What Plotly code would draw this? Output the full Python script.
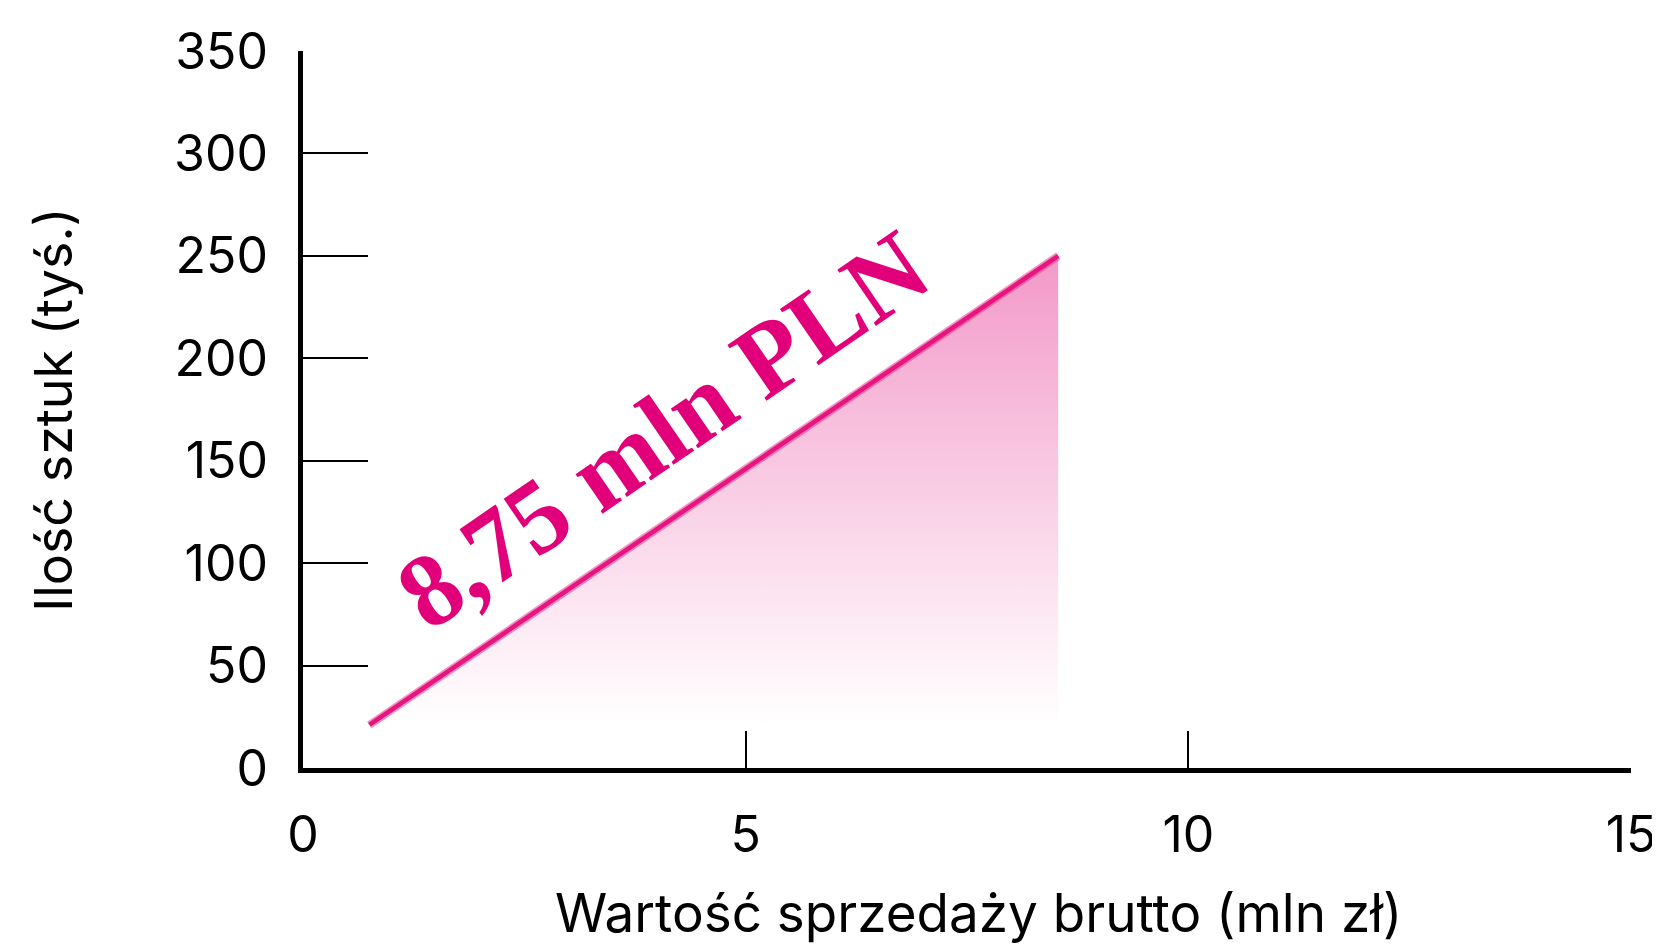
import plotly.graph_objects as go

# Data
line_x = [0.75, 8.53]          # mln zł
line_y = [21, 250]             # tys. sztuk
label_text = "8,75 mln PLN"
label_pos = (4.06, 165)

x_ticks = [0, 5, 10, 15]
y_ticks = [0, 50, 100, 150, 200, 250, 300, 350]

x_title = "Wartość sprzedaży brutto (mln zł)"
y_title = "Ilość sztuk (tyś.)"

FONT = "Inter"
PINK = "#E2007A"

fig = go.Figure()

# gradient area under the line
fig.add_trace(go.Scatter(
    x=[line_x[0], line_x[1], line_x[1], line_x[0]],
    y=[line_y[0], line_y[1], line_y[0], line_y[0]],
    mode="none",
    fill="toself",
    fillgradient=dict(
        type="vertical",
        colorscale=[[0, "rgba(244,160,203,0)"], [1, "rgba(242,152,200,1)"]],
    ),
    hoverinfo="skip",
    showlegend=False,
))

# textured pink line (approximation)
fig.add_trace(go.Scatter(
    x=line_x, y=line_y, mode="lines",
    line=dict(color="rgba(232,40,138,0.5)", width=8),
    hoverinfo="skip", showlegend=False,
))
fig.add_trace(go.Scatter(
    x=line_x, y=line_y, mode="lines",
    line=dict(color="#E6157F", width=4.5),
    showlegend=False,
))

fig.add_annotation(
    x=label_pos[0], y=label_pos[1], xref="x", yref="y",
    text="<b>" + label_text + "</b>", showarrow=False,
    textangle=-34.5,
    font=dict(family="Liberation Serif, DejaVu Serif, serif", size=104, color=PINK),
)

# axis titles as annotations (positioned like the reference)
fig.add_annotation(
    x=0.509, y=-0.202, xref="paper", yref="paper",
    text=x_title, showarrow=False, xanchor="center", yanchor="middle",
    font=dict(family=FONT, size=53, color="black"),
)
fig.add_annotation(
    x=-0.188, y=0.5, xref="paper", yref="paper",
    text=y_title, showarrow=False, xanchor="center", yanchor="middle",
    textangle=-90,
    font=dict(family=FONT, size=52, color="black"),
)

fig.update_xaxes(
    range=[0, 15], tickvals=x_ticks, ticktext=[str(v) for v in x_ticks],
    showline=True, linecolor="black", linewidth=5,
    ticks="inside", ticklen=37, tickwidth=2, tickcolor="black",
    showgrid=False, zeroline=False,
    tickfont=dict(family=FONT, size=50, color="black"),
    ticklabelstandoff=19,
    automargin=False,
)
fig.update_yaxes(
    range=[0, 350], tickvals=y_ticks, ticktext=[str(v) for v in y_ticks],
    showline=True, linecolor="black", linewidth=5,
    ticks="inside", ticklen=65, tickwidth=2, tickcolor="black",
    showgrid=False, zeroline=False,
    tickfont=dict(family=FONT, size=50, color="black"),
    ticklabelstandoff=20,
    automargin=False,
)

fig.update_layout(
    width=1652, height=939,
    margin=dict(l=295, r=29, t=43, b=179),
    paper_bgcolor="white", plot_bgcolor="white",
    showlegend=False,
)

fig.write_html("out.html")
